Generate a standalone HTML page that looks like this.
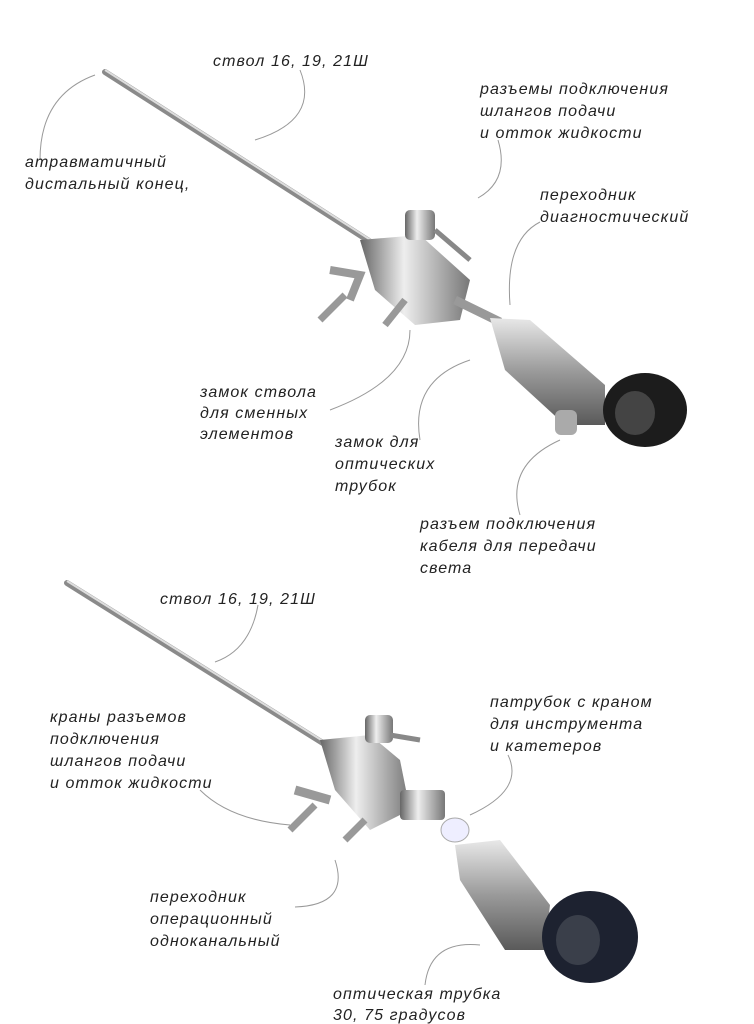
<!DOCTYPE html>
<html><head><meta charset="utf-8"><style>
html,body{margin:0;padding:0;background:#fff;}
svg{display:block}
text{font-family:"Liberation Sans",sans-serif;font-style:italic;font-size:16px;fill:#222;letter-spacing:1.1px}
</style></head><body>
<svg width="754" height="1024" viewBox="0 0 754 1024" xmlns="http://www.w3.org/2000/svg">
<defs>
<linearGradient id="m" x1="0" y1="0" x2="0" y2="1">
<stop offset="0" stop-color="#e8e8e8"/><stop offset="0.5" stop-color="#9a9a9a"/><stop offset="1" stop-color="#5a5a5a"/></linearGradient>
<linearGradient id="mh" x1="0" y1="0" x2="1" y2="0">
<stop offset="0" stop-color="#666"/><stop offset="0.4" stop-color="#eee"/><stop offset="1" stop-color="#777"/></linearGradient>
</defs>
<g fill="none" stroke="#999" stroke-width="1">
<path d="M300 70 Q320 120 255 140"/>
<path d="M95 75 Q40 95 40 160"/>
<path d="M498 140 Q510 180 478 198"/>
<path d="M540 222 Q505 240 510 305"/>
<path d="M410 330 Q410 380 330 410"/>
<path d="M470 360 Q410 380 420 440"/>
<path d="M560 440 Q505 465 520 515"/>
<path d="M258 605 Q250 650 215 662"/>
<path d="M200 790 Q230 820 290 825"/>
<path d="M508 755 Q525 790 470 815"/>
<path d="M295 907 Q350 905 335 860"/>
<path d="M425 985 Q430 940 480 945"/>
</g>
<g>
<line x1="105" y1="72" x2="380" y2="248" stroke="#8a8a8a" stroke-width="6" stroke-linecap="round"/>
<line x1="105" y1="70" x2="380" y2="246" stroke="#ddd" stroke-width="2"/>
<path d="M360 240 L420 235 L470 280 L460 320 L415 325 L375 290 Z" fill="url(#mh)"/>
<rect x="405" y="210" width="30" height="30" rx="5" fill="url(#mh)"/>
<path d="M435 230 L470 260" stroke="#888" stroke-width="5"/>
<path d="M330 270 L360 275 L350 300" stroke="#999" stroke-width="8" fill="none"/>
<path d="M320 320 L345 295" stroke="#999" stroke-width="7"/>
<path d="M385 325 L405 300" stroke="#999" stroke-width="7"/>
<line x1="455" y1="300" x2="500" y2="322" stroke="#999" stroke-width="9"/>
<path d="M490 318 L530 320 L605 385 L605 425 L565 425 L505 370 Z" fill="url(#m)"/>
<ellipse cx="645" cy="410" rx="42" ry="37" fill="#1c1c1c"/>
<ellipse cx="635" cy="413" rx="20" ry="22" fill="#444"/>
<rect x="555" y="410" width="22" height="25" rx="6" fill="#aaa"/>
</g>
<g>
<line x1="67" y1="583" x2="350" y2="760" stroke="#8a8a8a" stroke-width="6" stroke-linecap="round"/>
<line x1="67" y1="581" x2="350" y2="758" stroke="#ddd" stroke-width="2"/>
<path d="M320 740 L370 735 L400 760 L410 810 L370 830 L335 790 Z" fill="url(#mh)"/>
<rect x="365" y="715" width="28" height="28" rx="5" fill="url(#mh)"/>
<path d="M390 735 L420 740" stroke="#888" stroke-width="5"/>
<path d="M295 790 L330 800" stroke="#999" stroke-width="9"/>
<path d="M290 830 L315 805" stroke="#999" stroke-width="7"/>
<path d="M345 840 L365 820" stroke="#999" stroke-width="7"/>
<rect x="400" y="790" width="45" height="30" rx="4" fill="url(#mh)"/>
<ellipse cx="455" cy="830" rx="14" ry="12" fill="#eef" stroke="#aaa"/>
<path d="M455 845 L500 840 L550 905 L545 950 L505 950 L460 880 Z" fill="url(#m)"/>
<ellipse cx="590" cy="937" rx="48" ry="46" fill="#1d2230"/>
<ellipse cx="578" cy="940" rx="22" ry="25" fill="#3a3f4a"/>
</g>
<text x="213" y="66">ствол 16, 19, 21Ш</text>
<text x="480" y="94">разъемы подключения</text>
<text x="480" y="116">шлангов подачи</text>
<text x="480" y="138">и отток жидкости</text>
<text x="25" y="167">атравматичный</text>
<text x="25" y="189">дистальный конец,</text>
<text x="540" y="200">переходник</text>
<text x="540" y="222">диагностический</text>
<text x="200" y="397">замок ствола</text>
<text x="200" y="418">для сменных</text>
<text x="200" y="439">элементов</text>
<text x="335" y="447">замок для</text>
<text x="335" y="469">оптических</text>
<text x="335" y="491">трубок</text>
<text x="420" y="529">разъем подключения</text>
<text x="420" y="551">кабеля для передачи</text>
<text x="420" y="573">света</text>
<text x="160" y="604">ствол 16, 19, 21Ш</text>
<text x="50" y="722">краны разъемов</text>
<text x="50" y="744">подключения</text>
<text x="50" y="766">шлангов подачи</text>
<text x="50" y="788">и отток жидкости</text>
<text x="490" y="707">патрубок с краном</text>
<text x="490" y="729">для инструмента</text>
<text x="490" y="751">и катетеров</text>
<text x="150" y="902">переходник</text>
<text x="150" y="924">операционный</text>
<text x="150" y="946">одноканальный</text>
<text x="333" y="999">оптическая трубка</text>
<text x="333" y="1020">30, 75 градусов</text>
</svg>
</body></html>
